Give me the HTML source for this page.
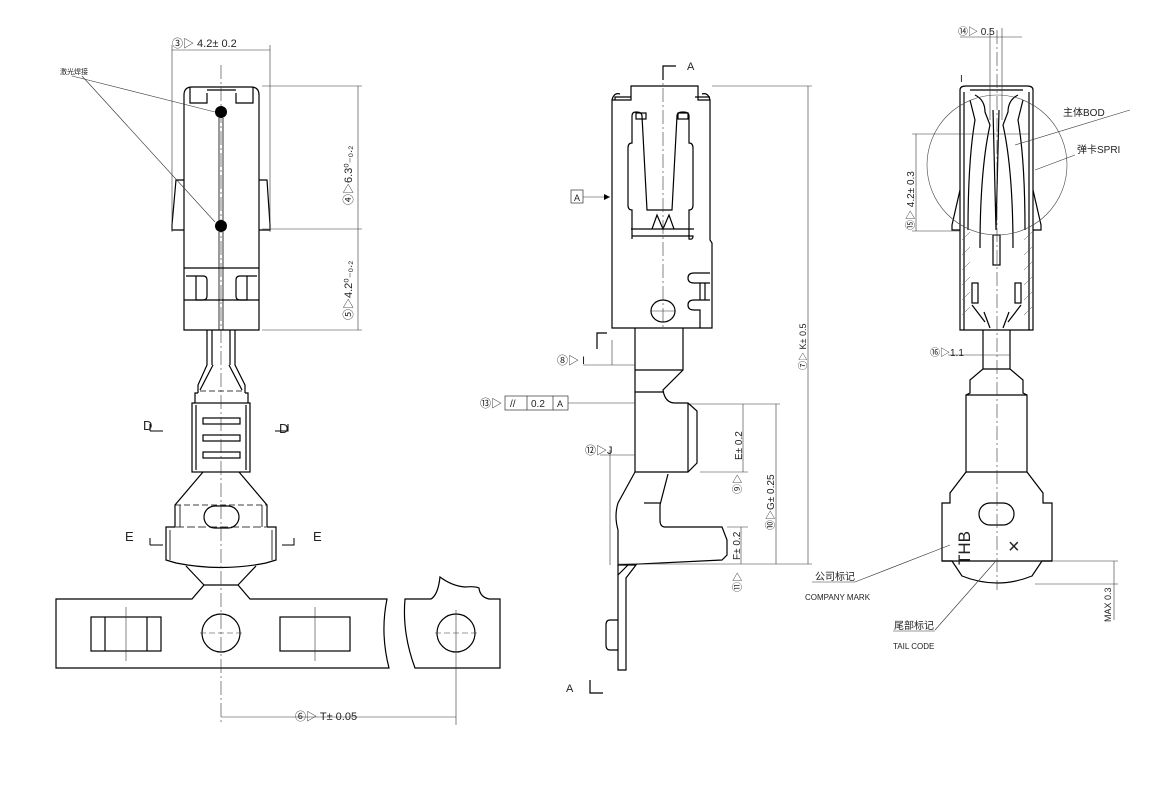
<!DOCTYPE html>
<html><head><meta charset="utf-8"><style>
html,body{margin:0;padding:0;background:#fff;}
svg{display:block;}
text{font-family:"Liberation Sans","Noto Sans CJK SC",sans-serif;fill:#222;}
</style></head><body>
<svg width="1151" height="785" viewBox="0 0 1151 785" xmlns="http://www.w3.org/2000/svg">
<g fill="none" stroke="#000" stroke-width="1.2">
<!-- ===== LEFT VIEW ===== -->
<path d="M184,330 V95 Q184,87 192,87 H251 Q259,87 259,95 V330 Z"/>
<path d="M190,87 V103 H207 V93 M253,87 V103 H236 V93"/>
<line x1="207" y1="90" x2="236" y2="90"/>
<path d="M184,180 H176 L172,225 V230 H184 M259,180 H267 L270,225 V230 H259"/>
<line x1="184" y1="268" x2="259" y2="268"/>
<line x1="184" y1="300" x2="259" y2="300"/>
<path d="M186,276 H203 Q207,276 207,280 V296 Q207,300 203,300 H196 V276"/>
<path d="M257,276 H240 Q236,276 236,280 V296 Q236,300 240,300 H247 V276"/>
<line x1="219" y1="118" x2="219" y2="222" stroke-width="0.8"/>
<line x1="223" y1="118" x2="223" y2="222" stroke-width="0.8"/>
<line x1="219" y1="232" x2="219" y2="330" stroke-width="0.8"/>
<line x1="223" y1="232" x2="223" y2="330" stroke-width="0.8"/>
<!-- wires -->
<path d="M207,330 V365 L198,385 V393 M212,330 V365 M230,330 V365 M235,330 V365 L245,385 V393"/>
<path d="M213,365 L200,390 M229,365 L242,390"/>
<line x1="200" y1="391" x2="242" y2="391" stroke-dasharray="6,3" stroke-width="0.7"/>
<path d="M198,393 H195 V403 M245,393 H248 V403"/>
<rect x="192" y="403" width="58" height="69"/>
<path d="M196,405 V470 M246,405 V470"/>
<rect x="203" y="418" width="37" height="6"/>
<rect x="203" y="435" width="37" height="6"/>
<rect x="203" y="452" width="37" height="6"/>
<path d="M203,472 L175,505 V527 H166 V560 L176,563 Q221,572 266,563 L276,560 V527 H267 V505 L239,472"/>
<path d="M180,505 V527 M262,505 V527" stroke-width="0.8"/>
<line x1="175" y1="505" x2="267" y2="505" stroke-dasharray="6,3" stroke-width="0.7"/>
<line x1="176" y1="527" x2="266" y2="527" stroke-dasharray="8,3" stroke-width="0.7"/>
<rect x="204" y="506" width="35" height="22" rx="11"/>
<path d="M170,530 V560 M272,530 V560" stroke-width="0.8"/>
<path d="M186,566 L204,585 M256,566 L238,585"/>
<path d="M56,599 H192 L204,585 H238 L250,599 H387 Q380,633 389,668 H56 Z"/>
<path d="M405,599 H431 Q438,595 440,577 Q452,586 465,587 Q475,586 479,588 Q480,597 489,599 H500 V668 H415 Q402,633 405,599 Z"/>
<circle cx="221" cy="633" r="19"/>
<circle cx="456" cy="633" r="19"/>
<rect x="91" y="617" width="70" height="34"/>
<path d="M105,617 V651 M147,617 V651"/>
<rect x="280" y="617" width="70" height="34"/>
</g>
<g fill="none" stroke="#333" stroke-width="0.6">
<line x1="221" y1="65" x2="221" y2="722" stroke-dasharray="14,3,2,3"/>
<line x1="456" y1="610" x2="456" y2="725"/>
<line x1="200" y1="633" x2="242" y2="633" stroke-dasharray="6,3"/>
<line x1="435" y1="633" x2="477" y2="633" stroke-dasharray="6,3"/>
<line x1="126" y1="607" x2="126" y2="661"/><line x1="315" y1="607" x2="315" y2="661"/>
<line x1="221" y1="717" x2="456" y2="717"/>
<line x1="172" y1="45" x2="172" y2="232"/><line x1="270" y1="45" x2="270" y2="232"/>
<line x1="172" y1="50" x2="270" y2="50"/>
<line x1="262" y1="86" x2="362" y2="86"/><line x1="262" y1="229" x2="362" y2="229"/><line x1="262" y1="330" x2="362" y2="330"/>
<line x1="358" y1="86" x2="358" y2="330"/>
<line x1="72" y1="76" x2="215" y2="112"/><line x1="82" y1="76" x2="215" y2="222"/>
<path d="M150,431 H163 M150,431 V424 M275,431 H288 V424 M150,545 H163 M150,545 V538 M282,545 H294 V538" stroke="#000" stroke-width="1"/>
</g>
<circle cx="221" cy="112" r="6"/><circle cx="221" cy="226" r="6"/>
<g font-size="11">
<text x="172" y="47">③▷ 4.2± 0.2</text>
<text x="60" y="74" font-size="7">激光焊接</text>
<text x="143" y="430" font-size="13">D</text><text x="279" y="433" font-size="13">D</text>
<text x="125" y="541" font-size="13">E</text><text x="313" y="541" font-size="13">E</text>
<text x="295" y="720">⑥▷ T± 0.05</text>
<text transform="translate(352,205) rotate(-90)">④▷6.3⁰₋₀.₂</text>
<text transform="translate(352,320) rotate(-90)">⑤▷4.2⁰₋₀.₂</text>
</g>

<!-- ===== MIDDLE VIEW ===== -->
<g fill="none" stroke="#000" stroke-width="1.2">
<path d="M612,328 V100 H631 V86 H698 V100 H710 V240 L712,243 V328 Z"/>
<path d="M612,100 Q614,92 620,94 M710,100 Q708,92 702,94 M615,100 V97 H631 M695,97 H710"/>
<path d="M632,239 V210 Q628,210 628,205 V148 Q628,143 632,143 V116 Q632,112 636,112 Q642,112 642,116 L647,210 L652,210 L657,210 L662,210 H667 L672,210 L677,116 Q677,112 683,112 Q689,112 689,116 V143 Q693,143 693,148 V205 Q693,210 689,210 V239 Q693,240 693,236 H632"/>
<path d="M652,229 L657,215 L663,229 L669,215 L674,229"/>
<path d="M631,229 H694"/>
<rect x="636" y="113" width="10" height="6"/><rect x="678" y="113" width="10" height="6"/>
<path d="M710,273 H694 Q688,273 688,278 Q688,283 694,283 H710 M710,300 H694 Q688,300 688,305 Q688,310 694,310 H700 V328 M700,283 V300 M705,283 V300"/>
<ellipse cx="663" cy="311" rx="12" ry="11"/>
<path d="M635,328 V472 M683,328 V370 L663,390 Q665,403 675,403 H688 L697,411 V463 L688,472 H635"/>
<path d="M635,370 H683 M635,392 H663 M688,403 V472"/>
<path d="M635,472 L618,503 Q614,516 618,530 V565 L722,560 L727,555 V540 L722,527 H665 Q660,527 660,520 V505 L668,474"/>
<path d="M644,503 H660"/>
<path d="M618,565 L636,565 L626,578 V670 H618 V565 M628,565 L618,575"/>
<path d="M618,620 H610 Q606,620 606,625 V645 Q606,650 610,650 H618"/>
</g>
<g fill="none" stroke="#333" stroke-width="0.6">
<line x1="663" y1="66" x2="663" y2="330" stroke-dasharray="14,3,2,3"/>
<line x1="650" y1="311" x2="676" y2="311"/>
<path d="M663,80 V66 H676 M663,66 V70" stroke="#000" stroke-width="1.2"/>
<path d="M597,349 V333 H607 M590,680 V693 H603" stroke="#000" stroke-width="1.2"/>
<line x1="712" y1="86" x2="812" y2="86"/>
<line x1="808" y1="86" x2="808" y2="564"/>
<line x1="690" y1="404" x2="780" y2="404"/>
<line x1="700" y1="472" x2="748" y2="472"/>
<line x1="727" y1="527" x2="748" y2="527"/>
<line x1="618" y1="564" x2="812" y2="564"/>
<line x1="776" y1="404" x2="776" y2="564"/>
<line x1="743" y1="404" x2="743" y2="472"/>
<line x1="741" y1="527" x2="741" y2="564"/>
<line x1="583" y1="197" x2="610" y2="197"/>
<line x1="612" y1="340" x2="612" y2="365"/>
<line x1="583" y1="365" x2="635" y2="365"/>
<line x1="568" y1="403" x2="635" y2="403"/>
<line x1="610" y1="450" x2="610" y2="565"/>
<line x1="600" y1="455" x2="635" y2="455"/>
</g>
<path d="M610,197 l-6,-3 v6 z" fill="#000"/>
<rect x="571" y="190" width="12" height="13" fill="none" stroke="#333" stroke-width="0.7"/>
<rect x="505" y="396" width="63" height="14" fill="none" stroke="#333" stroke-width="0.7"/>
<path d="M527,396 V410 M553,396 V410" stroke="#333" stroke-width="0.7"/>
<g font-size="11">
<text x="687" y="70">A</text><text x="566" y="692">A</text>
<text x="574" y="201" font-size="9">A</text>
<text x="557" y="364">⑧▷ I</text>
<text x="480" y="407">⑬▷</text>
<text x="510" y="407" font-size="10">//</text><text x="531" y="407" font-size="10">0.2</text><text x="557" y="407" font-size="9">A</text>
<text x="585" y="454">⑫▷J</text>
<text transform="translate(742,460) rotate(-90)" font-size="10">E± 0.2</text>
<text transform="translate(741,494) rotate(-90)" font-size="10">⑨▷</text>
<text transform="translate(774,530) rotate(-90)" font-size="10">⑩▷G± 0.25</text>
<text transform="translate(740,560) rotate(-90)" font-size="10">F± 0.2</text>
<text transform="translate(741,592) rotate(-90)" font-size="10">⑪▷</text>
<text transform="translate(806,370) rotate(-90)" font-size="9">⑦▷ K± 0.5</text>
</g>

<!-- ===== RIGHT VIEW ===== -->
<g fill="none" stroke="#000" stroke-width="1.2">
<path d="M960,330 V90 Q960,86 966,86 H1027 Q1033,86 1033,90 V330 Z"/>
<path d="M964,330 V92 M1029,330 V92 M970,90 H1023"/>
<path d="M975,95 Q985,100 985,112 L990,125 Q980,170 980,248 M1018,95 Q1008,100 1008,112 L1003,125 Q1013,170 1013,248"/>
<path d="M970,100 L975,120 Q968,160 968,230 M1023,100 L1018,120 Q1025,160 1025,230"/>
<path d="M993,110 L996,230 L999,110"/>
<path d="M960,190 L952,225 V230 H960 M1033,190 L1041,225 V230 H1033"/>
<rect x="993" y="235" width="7" height="30"/>
<rect x="972" y="283" width="6" height="20"/><rect x="1015" y="283" width="6" height="20"/>
<path d="M972,305 L985,322 M1021,305 L1008,322 M984,312 L990,328 M1009,312 L1003,328"/>
<path d="M983,330 V369 L970,380 V393 L966,395 V472 L950,493 V503 H942 V561 L952,561 L962,576 Q997,590 1032,576 L1042,561 H1052 V503 H1043 V493 L1027,472 V395 L1023,393 V380 L1010,369 V330"/>
<line x1="983" y1="369" x2="1010" y2="369"/>
<line x1="966" y1="395" x2="1027" y2="395"/>
<line x1="966" y1="472" x2="1027" y2="472"/>
<rect x="979" y="503" width="35" height="22" rx="11"/>
<line x1="942" y1="561" x2="1052" y2="561"/>
</g>
<circle cx="997" cy="165" r="70" fill="none" stroke="#444" stroke-width="0.6"/>
<g stroke="#555" stroke-width="0.5">
<path d="M962,240 L970,232 M962,255 L970,247 M962,270 L970,262 M962,285 L970,277 M962,300 L970,292 M962,315 L970,307 M1024,240 L1032,232 M1024,255 L1032,247 M1024,270 L1032,262 M1024,285 L1032,277 M1024,300 L1032,292 M1024,315 L1032,307"/>
</g>
<g fill="none" stroke="#333" stroke-width="0.6">
<line x1="997" y1="30" x2="997" y2="590" stroke-dasharray="14,3,2,3"/>
<line x1="990" y1="28" x2="990" y2="120"/><line x1="1002" y1="28" x2="1002" y2="120"/>
<line x1="960" y1="37" x2="1022" y2="37"/>
<line x1="912" y1="134" x2="1030" y2="134"/><line x1="912" y1="231" x2="960" y2="231"/>
<line x1="916" y1="134" x2="916" y2="231"/>
<line x1="948" y1="355" x2="1010" y2="355"/>
<line x1="1052" y1="561" x2="1118" y2="561"/><line x1="1035" y1="584" x2="1118" y2="584"/>
<line x1="1114" y1="561" x2="1114" y2="620"/>
<line x1="1130" y1="110" x2="1015" y2="145"/><line x1="1075" y1="155" x2="1035" y2="170"/>
<line x1="855" y1="582" x2="950" y2="545"/><line x1="935" y1="630" x2="995" y2="562"/>
<line x1="812" y1="582" x2="855" y2="582"/><line x1="893" y1="631" x2="935" y2="631"/>
</g>
<g font-size="11">
<text x="958" y="35" font-size="10">⑭▷ 0.5</text>
<text x="960" y="82" font-size="10">I</text>
<text x="1063" y="116" font-size="10">主体BOD</text>
<text x="1077" y="153" font-size="10">弹卡SPRI</text>
<text transform="translate(914,230) rotate(-90)" font-size="10">⑮▷ 4.2± 0.3</text>
<text x="930" y="356" font-size="10">⑯▷1.1</text>
<text transform="translate(970,565) rotate(-90)" font-size="17">THB</text>
<text x="1008" y="553" font-size="20">×</text>
<text x="815" y="580" font-size="10">公司标记</text>
<text x="805" y="600" font-size="8">COMPANY MARK</text>
<text x="894" y="629" font-size="10">尾部标记</text>
<text x="893" y="649" font-size="8">TAIL CODE</text>
<text transform="translate(1111,622) rotate(-90)" font-size="9">MAX 0.3</text>
</g>
</svg>
</body></html>
